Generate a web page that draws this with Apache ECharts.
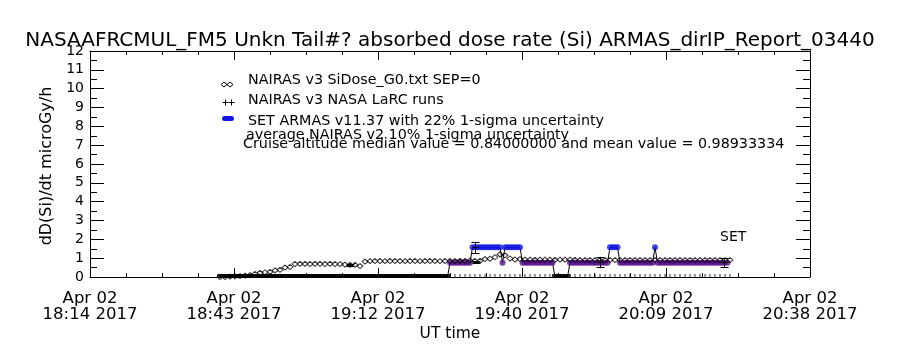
<!DOCTYPE html>
<html>
<head>
<meta charset="utf-8">
<script src="https://cdn.jsdelivr.net/npm/echarts@6/dist/echarts.min.js"></script>
<style>
html,body{margin:0;padding:0;background:#fff;}
#chart{width:900px;height:350px;}
</style>
</head>
<body>
<div id="chart"></div>
<script>
// ---------------- data (time in minutes after 18:14 UT, 02 Apr 2017) ----------------
const titleText = 'NASAAFRCMUL_FM5 Unkn Tail#? absorbed dose rate (Si) ARMAS_dirIP_Report_03440';
const xTickLabels = ['Apr 02\n18:14 2017', 'Apr 02\n18:43 2017', 'Apr 02\n19:12 2017',
                     'Apr 02\n19:40 2017', 'Apr 02\n20:09 2017', 'Apr 02\n20:38 2017'];
const yTickLabels = ['0','1','2','3','4','5','6','7','8','9','10','11','12'];
const legendLines = [
  'NAIRAS v3 SiDose_G0.txt SEP=0',
  'NAIRAS v3 NASA LaRC runs',
  'SET ARMAS v11.37 with 22% 1-sigma uncertainty',
  'average NAIRAS v2 10% 1-sigma uncertainty',
  'Cruise altitude median value = 0.84000000 and mean value = 0.98933334'
];

// NAIRAS v3 SiDose (one value per minute, starting at minute 26)
const nairasStart = 26;
const nairasVal = [
  0.00,0.00,0.02,0.03,0.05,0.07,0.10,0.16,0.22,0.25,
  0.27,0.35,0.38,0.50,0.53,0.69,0.70,0.70,0.69,0.70,
  0.70,0.69,0.70,0.69,0.68,0.66,0.64,0.64,0.58,0.82,
  0.84,0.85,0.85,0.84,0.85,0.85,0.85,0.84,0.85,0.85,
  0.84,0.85,0.85,0.85,0.84,0.85,0.85,0.85,0.86,0.86,
  0.87,0.85,0.86,0.95,0.97,1.05,1.20,1.15,0.98,0.93,
  0.95,0.92,0.92,0.91,0.92,0.92,0.92,0.91,0.92,0.92,
  0.92,0.91,0.90,0.90,0.90,0.90,0.90,0.90,0.90,0.90,
  0.90,0.90,0.90,0.90,0.90,0.90,0.90,0.90,0.90,0.90,
  0.90,0.90,0.90,0.90,0.90,0.90,0.90,0.90,0.90,0.90,
  0.90,0.90,0.90
];

// SET ARMAS (one value per half minute, starting at minute 26)
const armasStart = 26;
const armasStep = 0.5;
const armasVal = [
  0,0,0,0,0,0,0,0,0,0, 0,0,0,0,0,0,0,0,0,0,
  0,0,0,0,0,0,0,0,0,0, 0,0,0,0,0,0,0,0,0,0,
  0,0,0,0,0,0,0,0,0,0, 0,0,0,0,0,0,0,0,0,0,
  0,0,0,0,0,0,0,0,0,0, 0,0,0,0,0,0,0,0,0,0,
  0,0,0,0,0,0,0,0,0,0, 0,0,
  0.76,0.76,0.76,0.76,0.76,0.76,0.76,0.76,0.76,
  1.58,1.58,1.58,1.58,1.58,1.58,1.58,1.58,1.58,1.58,1.58,1.58,
  0.76,
  1.58,1.58,1.58,1.58,1.58,1.58,1.58,
  0.76,0.76,0.76,0.76,0.76,0.76,0.76,0.76,0.76,0.76,0.76,0.76,0.76,
  0,0,0,0,0,0,
  0.76,0.76,0.76,0.76,0.76,0.76,0.76,0.76,0.76,0.76,0.76,0.76,0.76,0.76,0.76,0.76,
  1.58,1.58,1.58,1.58,
  0.76,0.76,0.76,0.76,0.76,0.76,0.76,0.76,0.76,0.76,0.76,0.76,0.76,0.76,
  1.58,
  0.76,0.76,0.76,0.76,0.76,0.76,0.76,0.76,0.76,0.76,0.76,0.76,0.76,0.76,0.76,
  0.76,0.76,0.76,0.76,0.76,0.76,0.76,0.76,0.76,0.76,0.76,0.76,0.76,0.76
];

// NAIRAS v3 NASA LaRC runs: [minute, value, 1-sigma]
const larcTime = [52, 77, 77.2, 102, 126.8];
const larcVal  = [0.66, 1.57, 0.78, 0.80, 0.77];
const larcErr  = [0.05, 0.30, 0.05, 0.27, 0.24];
// LaRC runs with zero dose (plotted on the axis)
const larcZeroTime = [
  26,27,28,29,30,31,32,33,34,35,36,37,38,39,40,41,42,43,44,45,
  46,47,48,49,50,51,52,53,54,55,56,57,58,59,60,61,62,63,64,65,
  66,67,68,69,70,71,72,73,74,75,76,77,78,79,80,81,82,83,84,85,
  86,87,88,89,90,91,92,93,94,95,96,97,98,99,100,101,102,103,104,105,
  106,107,108,109,110,111,112,113,114,115,116,117,118,119,120,121,122,123,124,125,
  126,127,128
];

// ---------------- build series data ----------------
const nairasData = nairasVal.map((v, i) => [nairasStart + i, v]);
const armasAll = armasVal.map((v, i) => [armasStart + i * armasStep, v]);
const armasZero = armasAll.filter(p => p[1] === 0);
const armasLow = armasAll.filter(p => p[1] > 0 && p[1] < 1.2);
const armasHigh = armasAll.filter(p => p[1] >= 1.2);
const larcData = larcTime.map((t, i) => [t, larcVal[i], larcErr[i]]);
const larcZero = larcZeroTime.map(t => [t, 0]);

const FONT = 'DejaVu Sans';
const PURPLE = '#5a108c';
const BLUE = '#1515e0';

const chart = echarts.init(document.getElementById('chart'), null, {renderer: 'canvas'});

const xCommon = {
  type: 'value', min: 0, max: 144, interval: 28.8,
  axisLine: {show: true, onZero: false, lineStyle: {color: '#000', width: 1}},
  axisTick: {show: true, inside: true, length: 9, lineStyle: {color: '#000'}},
  minorTick: {show: true, splitNumber: 4, length: 4, lineStyle: {color: '#000'}},
  splitLine: {show: false}, minorSplitLine: {show: false}
};
const yCommon = {
  type: 'value', min: 0, max: 12, interval: 1,
  axisLine: {show: true, onZero: false, lineStyle: {color: '#000', width: 1}},
  axisTick: {show: true, inside: true, length: 14, lineStyle: {color: '#000'}},
  minorTick: {show: true, splitNumber: 2, length: 7, lineStyle: {color: '#000'}},
  splitLine: {show: false}, minorSplitLine: {show: false}
};

const legendGraphics = [];
const legendY = [80, 100, 121, 135, 144];
const legendX = [248, 248, 248, 246, 243];
legendLines.forEach((txt, i) => {
  legendGraphics.push({
    type: 'text', x: legendX[i], y: legendY[i],
    style: {text: txt, font: '14.3px "' + FONT + '"', fill: '#000', textVerticalAlign: 'middle'}
  });
});
// legend symbols
[224, 230].forEach(x => legendGraphics.push({
  type: 'polygon', shape: {points: [[x, 82], [x + 3, 84.5], [x, 87], [x - 3, 84.5]]},
  style: {fill: 'none', stroke: '#000', lineWidth: 1}
}));
[225.5, 231.5].forEach(x => {
  legendGraphics.push({type: 'line', shape: {x1: x - 3, y1: 102.5, x2: x + 3, y2: 102.5}, style: {stroke: '#000', lineWidth: 1}});
  legendGraphics.push({type: 'line', shape: {x1: x, y1: 99.5, x2: x, y2: 105.5}, style: {stroke: '#000', lineWidth: 1}});
});
legendGraphics.push({
  type: 'rect', shape: {x: 222, y: 116, width: 12, height: 5, r: 2.5}, style: {fill: BLUE}
});

const option = {
  animation: false,
  backgroundColor: '#fff',
  title: {
    text: titleText, left: 'center', top: 26,
    textStyle: {fontFamily: FONT, fontSize: 20, fontWeight: 'normal', color: '#000'}
  },
  grid: {left: 90, right: 90, top: 51, bottom: 73, containLabel: false},
  xAxis: [
    Object.assign({}, xCommon, {
      position: 'bottom',
      axisLabel: {
        show: true, margin: 14, color: '#000', fontFamily: FONT, fontSize: 16.5, lineHeight: 16,
        showMinLabel: true, showMaxLabel: true, hideOverlap: false,
        formatter: v => xTickLabels[Math.round(v / 28.8)] || ''
      }
    }),
    Object.assign({}, xCommon, {position: 'top', axisLabel: {show: false}})
  ],
  yAxis: [
    Object.assign({}, yCommon, {
      position: 'left',
      axisLabel: {
        show: true, margin: 6, color: '#000', fontFamily: FONT, fontSize: 14,
        showMinLabel: true, showMaxLabel: true, hideOverlap: false,
        formatter: v => yTickLabels[Math.round(v)] || ''
      }
    }),
    Object.assign({}, yCommon, {position: 'right', axisLabel: {show: false}})
  ],
  graphic: [
    {type: 'text', x: 47, y: 166, rotation: Math.PI / 2,
     style: {text: 'dD(Si)/dt microGy/h', font: '16px "' + FONT + '"', fill: '#000', textAlign: 'center', textVerticalAlign: 'middle'}},
    {type: 'text', x: 450, y: 334,
     style: {text: 'UT time', font: '15.5px "' + FONT + '"', fill: '#000', textAlign: 'center', textVerticalAlign: 'middle'}},
    {type: 'text', x: 720, y: 237,
     style: {text: 'SET', font: '14px "' + FONT + '"', fill: '#000', textAlign: 'left', textVerticalAlign: 'middle'}}
  ].concat(legendGraphics),
  series: [
    {
      name: 'ARMAS line', type: 'line', data: armasAll, showSymbol: false, symbol: 'none',
      lineStyle: {color: '#000', width: 1}, z: 2, silent: true
    },
    {
      name: 'ARMAS zero', type: 'scatter', data: armasZero, symbol: 'rect', symbolSize: [6, 3],
      symbolOffset: [0, -1.5], itemStyle: {color: '#000'}, z: 3, silent: true
    },
    {
      name: 'ARMAS low', type: 'scatter', data: armasLow, symbol: 'circle', symbolSize: 6,
      itemStyle: {color: PURPLE}, z: 3, silent: true
    },
    {
      name: 'ARMAS high', type: 'scatter', data: armasHigh, symbol: 'circle', symbolSize: 6,
      itemStyle: {color: BLUE}, z: 3, silent: true
    },
    {
      name: 'NAIRAS v3 SiDose', type: 'scatter', data: nairasData, symbol: 'diamond', symbolSize: [6, 5],
      itemStyle: {color: 'rgba(0,0,0,0)', borderColor: '#000', borderWidth: 1}, z: 4, silent: true
    },
    {
      name: 'LaRC zero', type: 'scatter', data: larcZero, symbol: 'rect', symbolSize: [1, 3],
      symbolOffset: [0, -1.5], itemStyle: {color: '#000'}, z: 5, silent: true
    },
    {
      name: 'LaRC runs', type: 'custom', data: larcData, z: 6, silent: true,
      renderItem: function (params, api) {
        const t = api.value(0), v = api.value(1), e = api.value(2);
        const c = api.coord([t, v]);
        const hi = api.coord([t, v + e]);
        const lo = api.coord([t, v - e]);
        const x = Math.round(c[0]) + 0.5;
        const st = {stroke: '#000', lineWidth: 1};
        const w = 4;
        return {
          type: 'group', children: [
            {type: 'line', shape: {x1: x, y1: hi[1], x2: x, y2: lo[1]}, style: st},
            {type: 'line', shape: {x1: x - w, y1: Math.round(hi[1]) + 0.5, x2: x + w, y2: Math.round(hi[1]) + 0.5}, style: st},
            {type: 'line', shape: {x1: x - w, y1: Math.round(lo[1]) + 0.5, x2: x + w, y2: Math.round(lo[1]) + 0.5}, style: st},
            {type: 'line', shape: {x1: x - 3, y1: Math.round(c[1]) + 0.5, x2: x + 3, y2: Math.round(c[1]) + 0.5}, style: st}
          ]
        };
      }
    }
  ]
};
chart.setOption(option);
</script>
</body>
</html>
